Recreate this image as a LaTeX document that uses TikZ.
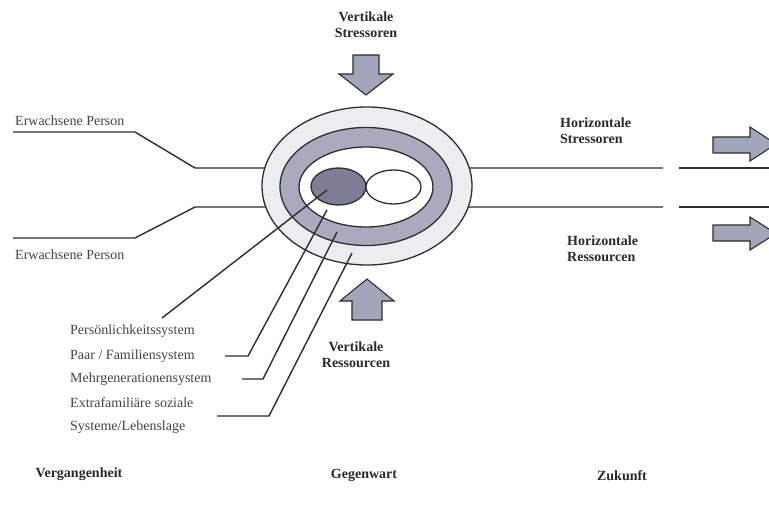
\documentclass[tikz,border=0pt]{standalone}
\usepackage{fontspec}
\setmainfont{Liberation Serif}
\usetikzlibrary{shapes.geometric}
\definecolor{outerfill}{HTML}{EDEDF1}
\definecolor{ringfill}{HTML}{A9AABD}
\definecolor{darkfill}{HTML}{7D7E96}
\definecolor{arrowfill}{HTML}{A3A5BA}
\definecolor{linecol}{HTML}{2E2E2E}
\definecolor{txtgray}{HTML}{454545}
\definecolor{darktxt}{HTML}{2A2A2A}
\begin{document}
\begin{tikzpicture}[x=1pt,y=-1pt,
  lbl/.style={font=\fontsize{14}{16}\selectfont, text=txtgray, inner sep=0pt, anchor=west},
  blbl/.style={font=\fontsize{14}{16}\selectfont\bfseries, text=darktxt, align=left, inner sep=0pt},
  ln/.style={line width=1.4pt, draw=linecol},
  bigarrow/.style={draw=linecol, fill=arrowfill, line width=1.1pt, line join=miter},
  ell/.style={ellipse, draw=linecol, line width=1.3pt, inner sep=0pt}]
\useasboundingbox (0,0) rectangle (769,508);
\clip (0,0) rectangle (769,508);
\fill[white] (0,0) rectangle (769,508);

% coordinates for the life lines
\coordinate (l1a) at (13,132);
\coordinate (l1b) at (135,132);
\coordinate (l1c) at (195,168);
\coordinate (l2a) at (13,238);
\coordinate (l2b) at (135,238);
\coordinate (l2c) at (195,207);
\coordinate (c1) at (367,168);
\coordinate (c2) at (367,207);
\coordinate (r1a) at (663,168);
\coordinate (r1b) at (679,168);
\coordinate (r1c) at (769,168);
\coordinate (r2a) at (663,207);
\coordinate (r2b) at (679,207);
\coordinate (r2c) at (769,207);

\draw[ln] (l1a) -- (l1b) -- (l1c) -- (c1) -- (r1a);
\draw[ln] (r1b) -- (r1c);
\draw[ln] (l2a) -- (l2b) -- (l2c) -- (c2) -- (r2a);
\draw[ln] (r2b) -- (r2c);

% nested systems
\node[ell, fill=outerfill, minimum width=210pt, minimum height=158pt] (outer) at (367,186) {};
\node[ell, fill=ringfill, minimum width=172pt, minimum height=118pt] (ring) at (366,186.5) {};
\node[ell, fill=white, minimum width=134pt, minimum height=80pt] (inner) at (366,187) {};
\node[ell, fill=darkfill, minimum width=55pt, minimum height=37pt] (pers) at (338.5,186.5) {};
\node[ell, fill=white, minimum width=55pt, minimum height=34pt] (partner) at (393.5,187) {};

% labels left
\node[lbl] (ew1) at (15,121) {Erwachsene Person};
\node[lbl] (ew2) at (15,255) {Erwachsene Person};

\node[lbl] (t1) at (70,331) {Persönlichkeitssystem};
\node[lbl] (t2) at (70,356) {Paar / Familiensystem};
\node[lbl] (t3) at (70,379) {Mehrgenerationensystem};
\node[lbl] (t4) at (70,403) {Extrafamiliäre soziale};
\node[lbl] (t5) at (70,427) {Systeme/Lebenslage};

% leader lines
\coordinate (p1a) at (162,318);
\coordinate (p1b) at (327,190);
\coordinate (p2a) at (225,356);
\coordinate (p2b) at (248,356);
\coordinate (p2c) at (327,210);
\coordinate (p3a) at (242,379);
\coordinate (p3b) at (263,379);
\coordinate (p3c) at (337,232);
\coordinate (p4a) at (217,416);
\coordinate (p4b) at (269,416);
\coordinate (p4c) at (352,253);
\draw[ln] (p1a) -- (p1b);
\draw[ln] (p2a) -- (p2b) -- (p2c);
\draw[ln] (p3a) -- (p3b) -- (p3c);
\draw[ln] (p4a) -- (p4b) -- (p4c);

% vertical arrows
\draw[bigarrow] (353,55) -- (379,55) -- (379,74) -- (393,74) -- (366,95) -- (339,74) -- (353,74) -- cycle;
\draw[bigarrow] (352,320) -- (382,320) -- (382,301) -- (394,301) -- (367,279) -- (340,301) -- (352,301) -- cycle;
\node[blbl, align=center] (vs) at (366,25) {Vertikale\\Stressoren};
\node[blbl, align=center] (vr) at (356,355) {Vertikale\\Ressourcen};

% horizontal arrows
\draw[bigarrow] (713,137) -- (750,137) -- (750,127) -- (776,144) -- (750,161) -- (750,153) -- (713,153) -- cycle;
\draw[bigarrow] (713,225) -- (750,225) -- (750,217) -- (776,233.5) -- (750,250) -- (750,241) -- (713,241) -- cycle;
\node[blbl, anchor=west] (hs) at (560,130.5) {Horizontale\\Stressoren};
\node[blbl, anchor=west] (hr) at (567,249) {Horizontale\\Ressourcen};

% time axis
\node[blbl] (past) at (79,474) {Vergangenheit};
\node[blbl] (now) at (364,475) {Gegenwart};
\node[blbl] (future) at (622,476) {Zukunft};
\end{tikzpicture}
\end{document}
